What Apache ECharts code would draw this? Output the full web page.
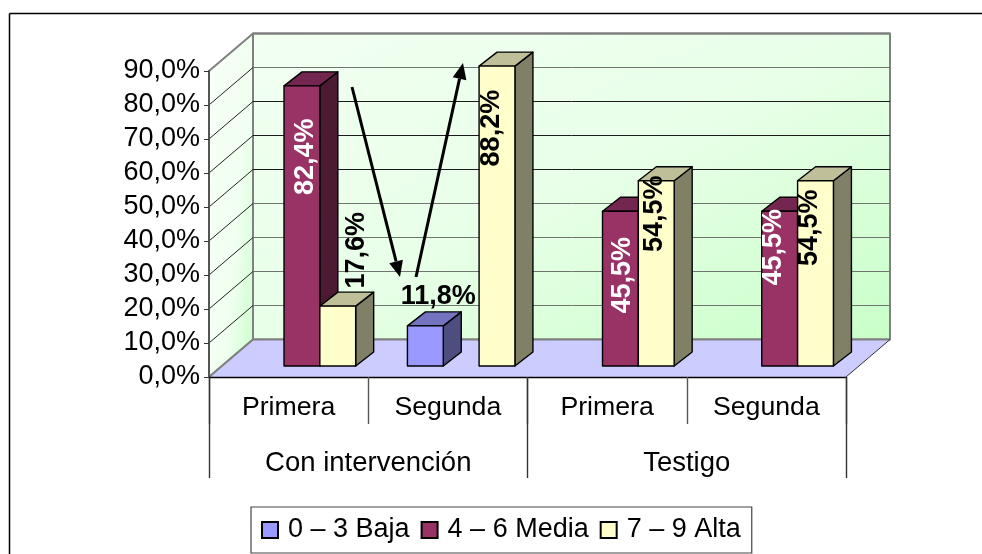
<!DOCTYPE html>
<html>
<head>
<meta charset="utf-8">
<style>html,body{margin:0;padding:0;background:#fff}#chart{width:982px;height:554px}</style>
<script src="https://cdn.jsdelivr.net/npm/echarts@6/dist/echarts.min.js"></script>
</head>
<body>
<div id="chart"></div>
<script>
// Category levels
const passes = ['Primera', 'Segunda', 'Primera', 'Segunda'];
const groups = ['Con intervención', 'Testigo'];
const yTicks = [0, 10, 20, 30, 40, 50, 60, 70, 80, 90];

// Share of each adoption level per pass
const baja = [null, 11.8, null, null];
const media = [82.4, null, 45.5, 45.5];
const alta = [17.6, 88.2, 54.5, 54.5];

const FONT = '"Liberation Sans", Arial, sans-serif';

// Oblique projection of the chart box
const DEPTH_X = 44, DEPTH_Y = 37.5;
// Bars stand a little way back from the front edge of the floor
const BAR_BACK_X = 13.3, BAR_BACK_Y = 11;
const BAR_SIDE_X = 18, BAR_SIDE_Y = 14;

const palette = {
  baja: { front: '#9999ff', top: '#7373bf', side: '#4d4d80' },
  media: { front: '#993366', top: '#732650', side: '#4d1a33' },
  alta: { front: '#ffffcc', top: '#bfbf99', side: '#808066' }
};

// Hand-placed data labels: shift from the bar's top centre, per category
const labelPlacement = {
  baja: [null, { dx: 13, dy: -29, flat: true }, null, null],
  media: [{ dx: 4, dy: 71, color: '#fff' }, null, { dx: 2, dy: 64, color: '#fff' }, { dx: -6, dy: 36, color: '#fff' }],
  alta: [{ dx: 19, dy: -56 }, { dx: -5, dy: 62 }, { dx: -2, dy: 33 }, { dx: -6, dy: 47 }]
};

const percent = v => v.toFixed(1).replace('.', ',') + '%';

function poly(points, fill, stroke, lineWidth) {
  return {
    type: 'polygon',
    shape: { points },
    style: { fill, stroke: stroke || 'none', lineWidth: lineWidth || 0, lineJoin: 'round' }
  };
}

// Back wall, side wall and floor, derived from the plot rectangle
function renderWalls(params) {
  const c = params.coordSys;
  const l = c.x, t = c.y, r = c.x + c.width, b = c.y + c.height;
  const dx = DEPTH_X, dy = DEPTH_Y;
  const wallEdge = '#808080';
  return {
    type: 'group',
    children: [
      poly([[l + dx, t - dy], [r + dx, t - dy], [r + dx, b - dy], [l + dx, b - dy]], {
        type: 'linear', x: 0, y: 0, x2: 0.374, y2: 1.626,
        colorStops: [{ offset: 0, color: '#f2fff2' }, { offset: 0.5, color: '#e8ffe8' }, { offset: 1, color: '#c8ffc8' }]
      }, wallEdge, 2),
      poly([[l, t], [l + dx, t - dy], [l + dx, b - dy], [l, b]], {
        type: 'linear', x: 0, y: 0, x2: 1.68, y2: 0.02,
        colorStops: [{ offset: 0, color: '#f8fff8' }, { offset: 0.6, color: '#f0fff0' }, { offset: 1, color: '#c8ffc8' }]
      }, wallEdge, 2),
      poly([[l, b], [l + dx, b - dy], [r + dx, b - dy], [r, b]], '#ccccff'),
      { type: 'line', shape: { x1: l, y1: b, x2: l + dx, y2: b - dy }, style: { stroke: wallEdge, lineWidth: 2 } },
      { type: 'line', shape: { x1: l + dx, y1: b - dy, x2: r + dx, y2: b - dy }, style: { stroke: wallEdge, lineWidth: 2 } },
      { type: 'line', shape: { x1: r, y1: b, x2: r + dx, y2: b - dy }, style: { stroke: '#333', lineWidth: 1 } }
    ]
  };
}

// Gridline for one tick, running across the side wall and the back wall
function renderGridline(params, api) {
  const tick = api.value(1);
  if (tick === 0) return null;
  const c = params.coordSys;
  const y = api.coord([0, tick])[1];
  const stroke = tick === 90 ? '#808080' : (tick >= 50 && tick <= 70 ? '#1a1a1a' : '#6e746e');
  const children = [{
    type: 'line',
    shape: { x1: c.x + DEPTH_X, y1: y - DEPTH_Y, x2: c.x + c.width + DEPTH_X, y2: y - DEPTH_Y },
    style: { stroke, lineWidth: tick === 90 ? 2 : 1 }
  }];
  if (tick !== 90) {
    children.push({
      type: 'line',
      shape: { x1: c.x, y1: y, x2: c.x + DEPTH_X, y2: y - DEPTH_Y },
      style: { stroke: '#222', lineWidth: 1 }
    });
  }
  return { type: 'group', children };
}

// One 3-D column; slot is -1, 0 or 1 inside its category
function columnRenderer(key, slot) {
  return function (params, api) {
    const cat = api.value(0), val = api.value(1);
    const w = api.size([1, 0])[0] * 0.225;
    const base = api.coord([cat, 0]);
    const top = api.coord([cat, val]);
    const cx = base[0] + BAR_BACK_X + slot * w;
    const x0 = cx - w / 2, x1 = cx + w / 2;
    const y0 = base[1] - BAR_BACK_Y, y1 = top[1] - BAR_BACK_Y;
    const sx = BAR_SIDE_X, sy = BAR_SIDE_Y;
    const col = palette[key];
    const children = [
      poly([[x1, y0], [x1 + sx, y0 - sy], [x1 + sx, y1 - sy], [x1, y1]], col.side, '#000', 1.4),
      poly([[x0, y1], [x0 + sx, y1 - sy], [x1 + sx, y1 - sy], [x1, y1]], col.top, '#000', 1.4),
      poly([[x0, y0], [x0, y1], [x1, y1], [x1, y0]], col.front, '#000', 1.4)
    ];
    const place = labelPlacement[key][cat];
    if (place) {
      children.push({
        type: 'text',
        x: cx + place.dx,
        y: y1 + place.dy,
        rotation: place.flat ? 0 : Math.PI / 2,
        z2: 100,
        style: {
          text: percent(val),
          fill: place.color || '#000',
          font: 'bold 27px ' + FONT,
          align: 'center',
          verticalAlign: 'middle'
        }
      });
    }
    return { type: 'group', children };
  };
}

function columnSeries(name, key, slot, values) {
  return {
    type: 'custom',
    name,
    xAxisIndex: 0,
    yAxisIndex: 0,
    z: 3,
    itemStyle: { color: palette[key].front, borderColor: '#000', borderWidth: 1.4 },
    encode: { x: 0, y: 1 },
    data: values.map((v, i) => [i, v]).filter(d => d[1] !== null),
    renderItem: columnRenderer(key, slot)
  };
}

// Straight annotation arrow with a filled head
function arrow(x1, y1, x2, y2) {
  const a = Math.atan2(y2 - y1, x2 - x1);
  const len = 16, half = 7;
  const bx = x2 - len * Math.cos(a), by = y2 - len * Math.sin(a);
  const nx = -Math.sin(a) * half, ny = Math.cos(a) * half;
  return [
    { type: 'line', z: 50, shape: { x1, y1, x2: bx, y2: by }, style: { stroke: '#000', lineWidth: 3 } },
    { type: 'polygon', z: 50, shape: { points: [[x2, y2], [bx + nx, by + ny], [bx - nx, by - ny]] }, style: { fill: '#000' } }
  ];
}

const chart = echarts.init(document.getElementById('chart'), null, { renderer: 'canvas' });
chart.setOption({
  animation: false,
  backgroundColor: '#fff',
  textStyle: { fontFamily: FONT },
  grid: { left: 209, top: 71, width: 637, height: 306, containLabel: false },
  xAxis: [
    {
      type: 'category', data: passes, position: 'bottom', z: 10,
      axisLine: { show: true, lineStyle: { color: '#000', width: 1.4 } },
      axisTick: { show: true, length: 47, interval: 0, lineStyle: { color: '#555', width: 1.4 } },
      axisLabel: { interval: 0, color: '#000', fontSize: 26.7, fontFamily: FONT, margin: 17 },
      splitLine: { show: false }
    },
    {
      type: 'category', data: groups, position: 'bottom', z: 10,
      axisLine: { show: false },
      axisTick: { show: true, length: 101, interval: 0, lineStyle: { color: '#333', width: 1.4 } },
      axisLabel: { interval: 0, color: '#000', fontSize: 27.5, fontFamily: FONT, margin: 72 },
      splitLine: { show: false }
    }
  ],
  yAxis: {
    type: 'value', min: 0, max: 90, interval: 10, z: 10,
    axisLine: { show: true, lineStyle: { color: '#555', width: 2 } },
    axisTick: { show: true, length: 5, lineStyle: { color: '#333', width: 1 } },
    axisLabel: { color: '#000', fontSize: 27, fontFamily: FONT, margin: 9, formatter: percent },
    splitLine: { show: false }
  },
  legend: {
    left: 251, top: 507,
    data: ['0 – 3 Baja', '4 – 6 Media', '7 – 9 Alta'],
    itemWidth: 16, itemHeight: 16, itemGap: 11,
    padding: [9.5, 11, 9.5, 10],
    backgroundColor: '#fff', borderColor: '#444', borderWidth: 1.2,
    icon: 'rect', selectedMode: false,
    textStyle: { color: '#000', fontSize: 27, fontFamily: FONT, padding: [0, 0, 0, 5] }
  },
  series: [
    { type: 'custom', name: 'walls', z: 1, silent: true, encode: { x: 0, y: 1 }, data: [[0, 0]], renderItem: renderWalls },
    { type: 'custom', name: 'gridlines', z: 1, silent: true, encode: { x: 0, y: 1 }, data: yTicks.map(t => [0, t]), renderItem: renderGridline },
    columnSeries('0 – 3 Baja', 'baja', -1, baja),
    columnSeries('4 – 6 Media', 'media', 0, media),
    columnSeries('7 – 9 Alta', 'alta', 1, alta)
  ],
  graphic: {
    elements: [
      { type: 'line', z: 50, silent: true, shape: { x1: 9.5, y1: 13.5, x2: 982, y2: 13.5 }, style: { stroke: '#000', lineWidth: 1.5 } },
      { type: 'line', z: 50, silent: true, shape: { x1: 9.5, y1: 13.5, x2: 9.5, y2: 554 }, style: { stroke: '#000', lineWidth: 1.5 } },
      ...arrow(352, 87, 400, 277),
      ...arrow(416, 277, 463, 63)
    ]
  }
});
</script>
</body>
</html>
